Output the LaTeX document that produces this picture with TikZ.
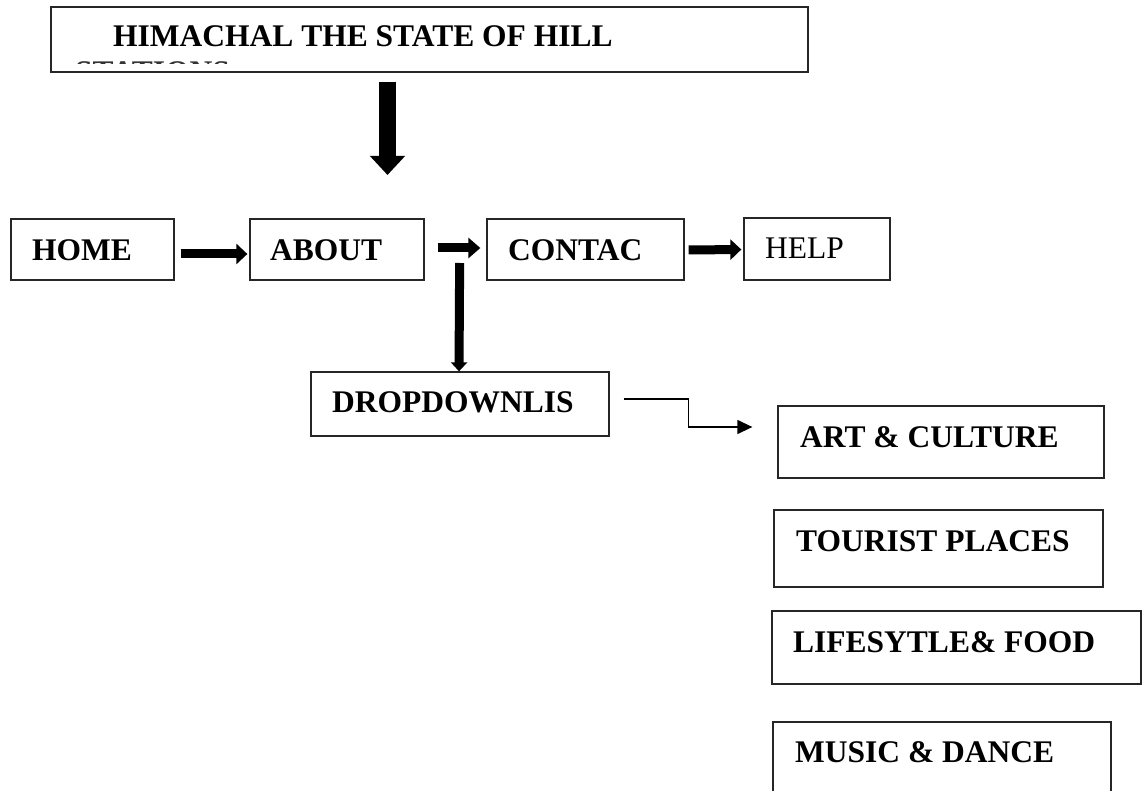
\documentclass[tikz,border=0pt]{standalone}
\usepackage{fontspec}
\setmainfont{Liberation Serif}
\usetikzlibrary{arrows.meta}
\begin{document}
\begin{tikzpicture}[x=1pt,y=-1pt,
  box/.style={draw=black!85, line width=1.3pt, inner sep=0pt},
  lbl/.style={anchor=base west, inner sep=0pt, font=\fontsize{31.5}{36}\selectfont\bfseries},
  lblr/.style={anchor=base west, inner sep=0pt, font=\fontsize{31.5}{36}\selectfont},
  fatarrow/.style={line width=9pt, -{Triangle[width=20pt,length=11pt]}},
  thinarrow/.style={line width=1.3pt, -{Triangle[width=14pt,length=15pt]}}]
\useasboundingbox (0,0) rectangle (1143,791);
% boxes
\node[box, minimum width=757pt, minimum height=65pt] (title) at (429.5,39.5) {};
\node[box, minimum width=163pt, minimum height=61pt] (home) at (92.5,249.5) {};
\node[box, minimum width=174pt, minimum height=61pt] (about) at (337,249.5) {};
\node[box, minimum width=197pt, minimum height=61pt] (contac) at (585.5,249.5) {};
\node[box, minimum width=146pt, minimum height=62pt] (help) at (817,249) {};
\node[box, minimum width=298pt, minimum height=64pt] (dd) at (460,404) {};
\node[box, minimum width=326pt, minimum height=72pt] (art) at (941,442) {};
\node[box, minimum width=329pt, minimum height=77pt] (tour) at (938.5,548.5) {};
\node[box, minimum width=369pt, minimum height=73pt] (life) at (956.5,647.5) {};
\node[box, minimum width=338pt, minimum height=78pt] (music) at (942,761) {};
% labels
\node[lbl] (titlet) at (113,47) {HIMACHAL THE STATE OF HILL};
\begin{scope}
  \clip (60,57) rectangle (260,64);
  \node[lbl, text=black!80] (titlefrag) at (75,83) {STATIONS};
\end{scope}
\node[lbl] (homet) at (32,261) {HOME};
\node[lbl] (aboutt) at (270,261) {ABOUT};
\node[lbl] (contact) at (508,261) {CONTAC};
\node[lblr] (helpt) at (765,259) {HELP};
\node[lbl] (ddt) at (332,412) {DROPDOWNLIS};
\node[lbl] (artt) at (800,447) {ART \& CULTURE};
\node[lbl] (tourt) at (796,551) {TOURIST PLACES};
\node[lbl] (lifet) at (793,652) {LIFESYTLE\& FOOD};
\node[lbl] (musict) at (795,762) {MUSIC \& DANCE};
% big arrow
\coordinate (bige) at (387.5,175);
\draw[line width=17pt, -{Triangle[width=34pt,length=19pt]}] ([shift={(-42,9)}]title.south) -- (bige);
% row arrows
\draw[fatarrow] ([shift={(6,4.5)}]home.east) -- ([shift={(-2,4.5)}]about.west);
\draw[fatarrow, -{Triangle[width=20pt,length=12pt]}] ([shift={(13,-1.5)}]about.east) -- ([shift={(-6,-1.5)}]contac.west);
\draw[fatarrow] ([shift={(4,0.5)}]contac.east) -- ([shift={(-2,0.5)}]help.west);
\draw[line width=9pt, -{Triangle[width=16pt,length=9pt]}] ([shift={(35,13.5)}]about.east) -- ([shift={(-1,0)}]dd.north);
% elbow
\draw[thinarrow] ([shift={(14,-5)}]dd.east) -- ++(65,0) |- ([shift={(-25,-15)}]art.west);
\end{tikzpicture}
\end{document}
